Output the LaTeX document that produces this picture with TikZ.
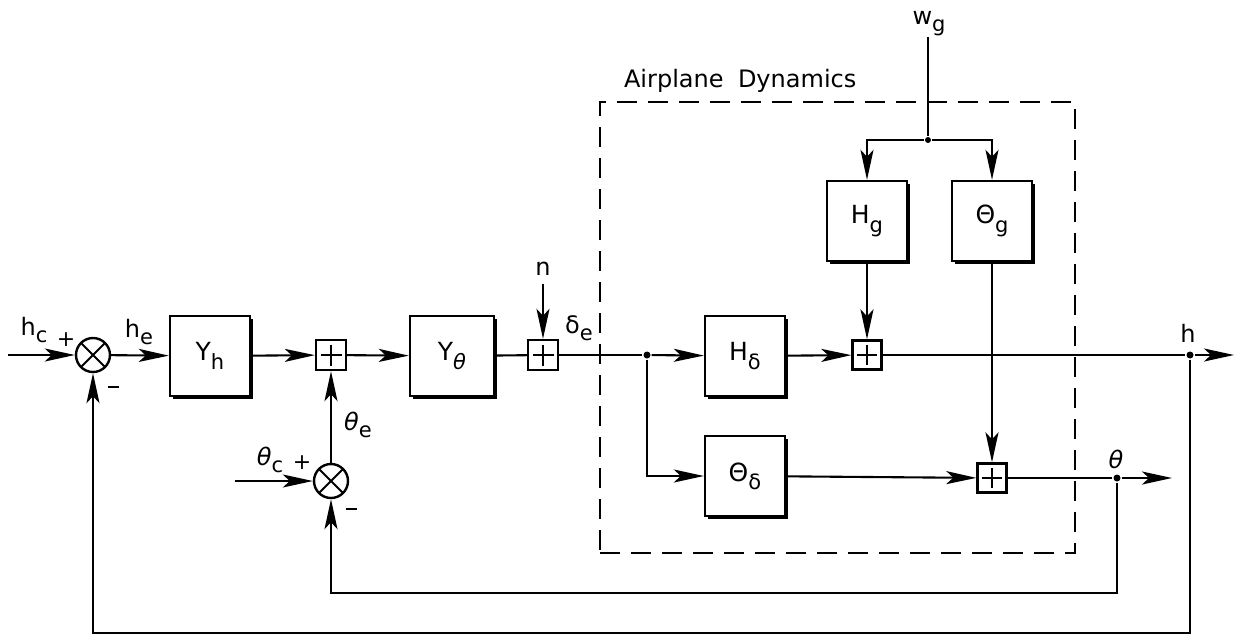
\documentclass[tikz,border=0pt]{standalone}
\usepackage{fontspec}
\setmainfont{DejaVu Sans}
\usetikzlibrary{arrows.meta,calc,shadows}
\newcommand{\sub}[1]{\raisebox{-0.33em}{\fontsize{21}{22}\selectfont #1}}
\newcommand{\thit}{\textit{θ}}
\begin{document}
\begin{tikzpicture}[x=1pt,y=-1pt,line width=2.1pt,
  blk/.style={draw,line width=2.4pt,fill=white,minimum width=80pt,minimum height=80pt,inner sep=0pt,
    font=\fontsize{25}{28}\selectfont,
    drop shadow={shadow xshift=2.5pt,shadow yshift=-2.5pt,opacity=1,fill=black}},
  sumb/.style={draw,line width=2.4pt,fill=white,minimum size=30pt,inner sep=0pt,
    path picture={
      \draw[line width=1.2pt] ($(path picture bounding box.north)!0.15!(path picture bounding box.south)$) -- ($(path picture bounding box.north)!0.85!(path picture bounding box.south)$);
      \draw[line width=1.2pt] ($(path picture bounding box.west)!0.15!(path picture bounding box.east)$) -- ($(path picture bounding box.west)!0.85!(path picture bounding box.east)$);}},
  sumc/.style={draw,circle,line width=2.4pt,minimum size=34pt,inner sep=0pt,
    path picture={
      \draw[line width=1.8pt] (path picture bounding box.north west) -- (path picture bounding box.south east);
      \draw[line width=1.8pt] (path picture bounding box.north east) -- (path picture bounding box.south west);}},
  arr/.style={-{Stealth[length=30pt,width=13pt,inset=7pt]}},
  dot/.style={circle,fill,inner sep=0pt,minimum size=7pt},
  lbl/.style={inner sep=0pt,anchor=base,font=\fontsize{24}{26}\selectfont},
  sgn/.style={inner sep=0pt,font=\fontsize{22}{24}\selectfont},
  dbox/.style={draw,line width=2.6pt,dash pattern=on 20pt off 11pt,inner sep=0pt}]
\useasboundingbox (0,0) rectangle (1242,641);

% dashed airplane dynamics box
\node[dbox,minimum width=475pt,minimum height=451pt] (ad) at (837.5,327.5) {};
\node[lbl,anchor=base west] (adl) at (623,87) {Airplane\hspace{0.6em}Dynamics};

% summing points
\node[sumc] (s1) at (93,355) {};
\node[sumc] (s2) at (331,481) {};
\node[sumb] (b1) at (331,355) {};
\node[sumb] (b2) at (543,355) {};
\node[sumb,minimum size=29pt] (b3) at (867,355) {};
\node[sumb,minimum size=29pt] (b4) at (992,478) {};

% blocks
\node[blk] (Yh) at (210,356) {Y\sub{h}};
\node[blk,minimum width=84pt] (Yt) at (452,356) {Y\sub{\thit}};
\node[blk] (Hd) at (745,356) {H\sub{δ}};
\node[blk] (Thd) at (745,476) {Θ\sub{δ}};
\node[blk] (Hg) at (867,221) {H\sub{g}};
\node[blk] (Thg) at (992,221) {Θ\sub{g}};

% junctions and free ends
\node[dot] (j1) at (647,355) {};
\node[dot] (jh) at (1190,355) {};
\node[dot] (jt) at (1117,478) {};
\node[dot,minimum size=6pt] (jw) at (928,140) {};
\coordinate (hin) at (8,355);
\coordinate (tin) at (235,481);
\coordinate (nin) at (543,284);
\coordinate (win) at (928,37);
\coordinate (hout) at (1234,355);
\coordinate (tout) at (1172,478);
\coordinate (fbt) at (1117,593);
\coordinate (fbh) at (1190,633);

% connectors
\draw[arr] (hin) -- (s1);
\draw[arr] (s1) -- (Yh);
\draw[arr] (Yh) -- (b1);
\draw[arr] (b1) -- (Yt);
\draw (Yt) -- (b2);
\draw[arr] (nin) -- (b2);
\draw (b2) -- (j1);
\draw[arr] (j1) -- (Hd);
\draw[arr] (j1) |- (Thd);
\draw[arr] (Hd) -- (b3);
\draw (b3) -- (jh);
\draw[arr] (jh) -- (hout);
\draw[arr] (Thd) -- (b4);
\draw (b4) -- (jt);
\draw[arr] (jt) -- (tout);
\draw (win) -- (jw);
\draw[arr] (jw) -| (Hg);
\draw[arr] (jw) -| (Thg);
\draw[arr] (Hg) -- (b3);
\draw[arr] (Thg) -- (b4);
\draw[arr] (tin) -- (s2);
\draw[arr] (s2) -- (b1);
\draw[arr] (jt) -- (fbt) -| (s2);
\draw[arr] (jh) -- (fbh) -| (s1);

% labels
\node[lbl] (lhc) at (34,335) {h\sub{c}};
\node[sgn] (p1) at (66,340) {+};
\node[sgn] (m1) at (113,387) {\rule{11pt}{2.4pt}};
\node[lbl] (lhe) at (139,337) {h\sub{e}};
\node[lbl] (lte) at (358,430) {\thit\sub{e}};
\node[lbl] (ltc) at (270,465) {\thit\sub{c}};
\node[sgn] (p2) at (302,463) {+};
\node[sgn] (m2) at (351,509) {\rule{11pt}{2.4pt}};
\node[lbl] (ln) at (543,275) {n};
\node[lbl] (lde) at (579,333) {δ\sub{e}};
\node[lbl] (lwg) at (929,24) {w\sub{g}};
\node[lbl] (lh) at (1188,342) {h};
\node[lbl] (lt) at (1116,468) {\thit};
\end{tikzpicture}
\end{document}
